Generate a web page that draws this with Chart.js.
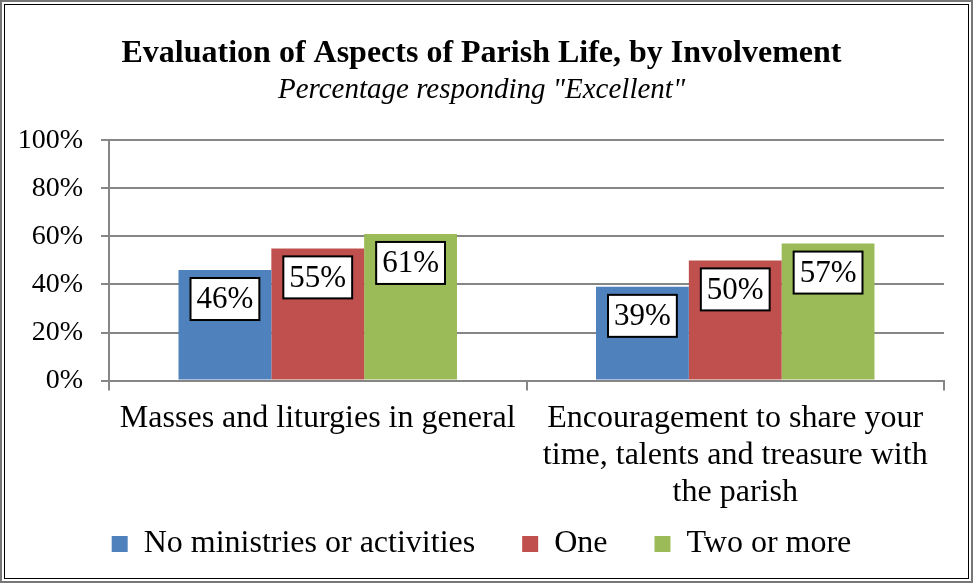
<!DOCTYPE html>
<html lang="en">

<head>
    <meta charset="UTF-8">
    <title>Evaluation of Aspects of Parish Life, by Involvement</title>
    <script src="https://cdn.jsdelivr.net/npm/chart.js"></script>
    <style>
        body { margin: 0; background: #fff; }
        #frame {
            position: absolute; left: 0; top: 0;
            width: 973px; height: 583px; box-sizing: border-box;
            border: 2px solid #777; padding: 2px;
        }
        #inner {
            width: 100%; height: 100%; box-sizing: border-box;
            border: 1px solid #000; position: relative;
        }
    </style>
</head>

<body>
    <div id="frame"><div id="inner"><canvas id="parishChart" width="965" height="575"></canvas></div></div>
    <script>
        const categories = [
            'Masses and liturgies in general',
            ['Encouragement to share your', 'time, talents and treasure with', 'the parish']
        ];
        const seriesNames = ['No ministries or activities', 'One', 'Two or more'];
        const noneValues = [46, 39];
        const oneValues = [55, 50];
        const twoPlusValues = [61, 57];
        const yTicks = [0, 20, 40, 60, 80, 100];
        const colors = ['#4F81BD', '#C0504D', '#9BBB59'];

        const serif = "'Liberation Serif', 'Times New Roman', serif";

        // white boxed value labels inside the top of each bar
        const boxLabels = {
            id: 'boxLabels',
            afterDatasetsDraw(chart) {
                const ctx = chart.ctx;
                ctx.save();
                ctx.font = '31px ' + serif;
                ctx.textAlign = 'center';
                ctx.textBaseline = 'middle';
                chart.data.datasets.forEach((ds, i) => {
                    chart.getDatasetMeta(i).data.forEach((bar, j) => {
                        const txt = ds.data[j] + '%';
                        const w = ctx.measureText(txt).width + 12;
                        const h = 42;
                        const cy = bar.y + 29;
                        ctx.fillStyle = '#fff';
                        ctx.fillRect(bar.x - w / 2, cy - h / 2, w, h);
                        ctx.lineWidth = 2;
                        ctx.strokeStyle = '#000';
                        ctx.strokeRect(bar.x - w / 2, cy - h / 2, w, h);
                        ctx.fillStyle = '#000';
                        ctx.fillText(txt, bar.x, cy + 1);
                    });
                });
                ctx.restore();
            }
        };

        const ctx = document.getElementById('parishChart').getContext('2d');
        new Chart(ctx, {
            type: 'bar',
            data: {
                labels: categories,
                datasets: [noneValues, oneValues, twoPlusValues].map((vals, i) => ({
                    label: seriesNames[i],
                    data: vals,
                    backgroundColor: colors[i],
                    borderWidth: 0
                }))
            },
            options: {
                responsive: false,
                animation: false,
                categoryPercentage: 0.667,
                barPercentage: 1,
                layout: { padding: { left: 14, right: 26, top: 0, bottom: 10 } },
                plugins: {
                    title: {
                        display: true,
                        text: 'Evaluation of Aspects of Parish Life, by Involvement',
                        color: '#000',
                        font: { family: serif, size: 32, weight: 'bold' },
                        padding: { top: 30, bottom: 0 }
                    },
                    subtitle: {
                        display: true,
                        text: 'Percentage responding "Excellent"',
                        color: '#000',
                        font: { family: serif, size: 29, style: 'italic' },
                        padding: { top: 0, bottom: 32 }
                    },
                    legend: {
                        position: 'bottom',
                        labels: {
                            color: '#000',
                            font: { family: serif, size: 32 },
                            boxWidth: 16,
                            boxHeight: 16,
                            padding: 7,
                            // extra trailing space between entries, like the original
                            generateLabels(chart) {
                                const items = Chart.defaults.plugins.legend.labels.generateLabels(chart);
                                items.forEach((it, i) => {
                                    if (i < items.length - 1) it.text = it.text + '     ';
                                });
                                return items;
                            }
                        }
                    },
                    tooltip: { enabled: false }
                },
                scales: {
                    x: {
                        grid: {
                            drawOnChartArea: false,
                            drawTicks: true,
                            tickLength: 10,
                            color: '#868686',
                            lineWidth: 2
                        },
                        border: { color: '#868686', width: 2 },
                        ticks: {
                            color: '#000',
                            font: { family: serif, size: 32, lineHeight: 1.15 },
                            padding: 10,
                            maxRotation: 0,
                            autoSkip: false
                        }
                    },
                    y: {
                        min: 0,
                        max: 100,
                        afterBuildTicks(scale) {
                            scale.ticks = yTicks.map(v => ({ value: v }));
                        },
                        afterFit(scale) {
                            scale.width = 90;
                        },
                        grid: {
                            color: '#868686',
                            lineWidth: 2,
                            tickLength: 8
                        },
                        border: { color: '#868686', width: 2 },
                        ticks: {
                            color: '#000',
                            font: { family: serif, size: 28 },
                            padding: 18,
                            callback: v => v + '%'
                        }
                    }
                }
            },
            plugins: [boxLabels]
        });
    </script>
</body>

</html>
